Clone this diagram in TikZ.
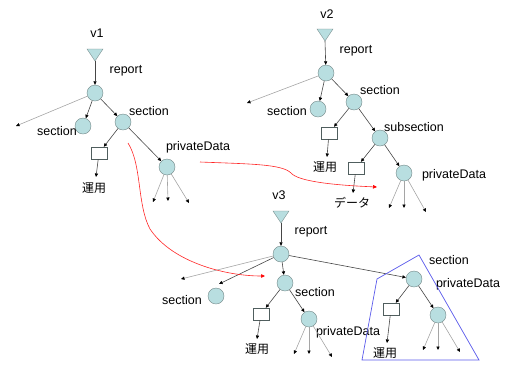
\documentclass[tikz,border=0pt]{standalone}
\usepackage{fontspec}
\setmainfont{Liberation Sans}
\newfontfamily\jp{Noto Sans CJK JP}
\usetikzlibrary{arrows.meta}
\definecolor{nodefill}{RGB}{184,222,224}
\definecolor{nodeline}{RGB}{115,135,135}
\definecolor{darkedge}{RGB}{70,70,70}
\definecolor{lightedge}{RGB}{165,165,165}
\definecolor{hull}{RGB}{90,90,235}
\begin{document}
\begin{tikzpicture}[x=1pt,y=-1pt,
  tnode/.style={circle,draw=nodeline,fill=nodefill,minimum size=16pt,inner sep=0pt},
  box/.style={draw=nodeline!70!black,fill=white,minimum width=16pt,minimum height=12pt,inner sep=0pt},
  tri/.style={draw=nodeline,fill=nodefill},
  lbl/.style={font=\fontsize{12.5}{14}\selectfont,inner sep=0pt},
  jlbl/.style={font=\jp\fontsize{12}{14}\selectfont,inner sep=0pt},
  dk/.style={draw=darkedge,line width=0.6pt,-{Triangle[length=3.5pt,width=3.2pt,color=black]}},
  lt/.style={draw=lightedge,line width=0.6pt,-{Triangle[length=3.5pt,width=3.2pt,color=black]}},
  redarrow/.style={draw=red!85!white,line width=0.6pt,-{Triangle[length=4pt,width=3.5pt,color=red]}}
]
\useasboundingbox (0,0) rectangle (506,365);

% ---------------- v1 ----------------
\node[lbl] (v1) at (97,33) {v1};
\filldraw[tri] (87,49) -- (103,49) -- (95,61) -- cycle;
\coordinate (t1) at (95,61);
\node[tnode] (r1) at (95,93) {};
\node[tnode] (s1a) at (83,126) {};
\node[tnode] (s1b) at (123,122) {};
\node[box] (b1) at (99,153) {};
\node[tnode] (p1) at (167,167) {};
\coordinate (l1) at (16,126);
\coordinate (e1) at (96,177);
\coordinate (q1a) at (153,202);
\coordinate (q1b) at (168,201);
\coordinate (q1c) at (189,203);
\node[lbl] (lr1) at (126,71) {report};
\node[lbl] (ls1a) at (57,131) {section};
\node[lbl] (ls1b) at (149,111) {section};
\node[jlbl] (lu1) at (94,188) {運用};
\node[lbl] (lp1) at (198,147) {privateData};
\draw[dk] (t1) -- (r1);
\draw[lt] (r1) -- (l1);
\draw[dk] (r1) -- (s1a);
\draw[dk] (r1) -- (s1b);
\draw[dk] (s1b) -- (b1);
\draw[dk] (s1b) -- (p1);
\draw[dk] (b1) -- (e1);
\draw[lt] (p1) -- (q1a);
\draw[lt] (p1) -- (q1b);
\draw[lt] (p1) -- (q1c);

% ---------------- v2 ----------------
\node[lbl] (v2) at (327,14) {v2};
\filldraw[tri] (317,29) -- (333,29) -- (325,41) -- cycle;
\coordinate (t2) at (325,41);
\node[tnode] (r2) at (326,73) {};
\node[tnode] (s2a) at (318,109) {};
\node[tnode] (s2b) at (354,102) {};
\node[box] (b2) at (329,133) {};
\node[tnode] (ss2) at (380,138) {};
\node[box] (b2b) at (356,168) {};
\node[tnode] (p2) at (404,173) {};
\coordinate (l2) at (247,103);
\coordinate (e2) at (327,157);
\coordinate (e2b) at (353,193);
\coordinate (q2a) at (389,208);
\coordinate (q2b) at (404,208);
\coordinate (q2c) at (426,212);
\node[lbl] (lr2) at (356,51) {report};
\node[lbl] (ls2a) at (287,111) {section};
\node[lbl] (ls2b) at (380,90) {section};
\node[lbl] (lss2) at (414,127) {subsection};
\node[jlbl] (lu2) at (325,167) {運用};
\node[jlbl] (ld2) at (352,203) {データ};
\node[lbl] (lp2) at (454,175) {privateData};
\draw[dk] (t2) -- (r2);
\draw[lt] (r2) -- (l2);
\draw[dk] (r2) -- (s2a);
\draw[dk] (r2) -- (s2b);
\draw[dk] (s2b) -- (b2);
\draw[dk] (s2b) -- (ss2);
\draw[dk] (b2) -- (e2);
\draw[dk] (ss2) -- (b2b);
\draw[dk] (ss2) -- (p2);
\draw[dk] (b2b) -- (e2b);
\draw[lt] (p2) -- (q2a);
\draw[lt] (p2) -- (q2b);
\draw[lt] (p2) -- (q2c);

% ---------------- v3 ----------------
\node[lbl] (v3) at (279,195) {v3};
\filldraw[tri] (273,211) -- (289,211) -- (281,223) -- cycle;
\coordinate (t3) at (281,223);
\node[tnode] (r3) at (281,254) {};
\node[tnode] (s3a) at (216,296) {};
\node[tnode] (s3b) at (285,283) {};
\node[box] (b3) at (261,314) {};
\node[tnode] (p3) at (309,319) {};
\node[tnode] (s3c) at (414,279) {};
\node[box] (b3c) at (391,309) {};
\node[tnode] (p3c) at (438,315) {};
\coordinate (l3) at (181,279);
\coordinate (m3) at (219,284);
\coordinate (e3) at (257,339);
\coordinate (q3a) at (294,354);
\coordinate (q3b) at (309,354);
\coordinate (q3c) at (332,357);
\coordinate (e3c) at (387,343);
\coordinate (q3d) at (423,350);
\coordinate (q3e) at (438,350);
\coordinate (q3f) at (460,352);
\node[lbl] (lr3) at (311,232) {report};
\node[lbl] (ls3a) at (182,300) {section};
\node[lbl] (ls3b) at (315,292) {section};
\node[jlbl] (lu3) at (257,349) {運用};
\node[lbl] (lp3) at (348,332) {privateData};
\node[lbl] (ls3c) at (449,260) {section};
\node[lbl] (lp3c) at (468,284) {privateData};
\node[jlbl] (lu3c) at (385,353) {運用};
\draw[dk] (t3) -- (r3);
\draw[lt] (r3) -- (l3);
\draw[dk] (r3) -- (m3);
\draw[dk] (r3) -- (s3b);
\draw[dk] (r3) -- (s3c);
\draw[dk] (s3b) -- (b3);
\draw[dk] (s3b) -- (p3);
\draw[dk] (b3) -- (e3);
\draw[lt] (p3) -- (q3a);
\draw[lt] (p3) -- (q3b);
\draw[lt] (p3) -- (q3c);
\draw[dk] (s3c) -- (b3c);
\draw[dk] (s3c) -- (p3c);
\draw[dk] (b3c) -- (e3c);
\draw[lt] (p3c) -- (q3d);
\draw[lt] (p3c) -- (q3e);
\draw[lt] (p3c) -- (q3f);

% blue hull
\draw[hull,line width=0.7pt] (362,360) -- (377,279) -- (419,255) -- (479,360) -- cycle;

% red arrows
\coordinate (ra) at (200,162);
\coordinate (rb) at (377,187);
\draw[redarrow] (ra) .. controls (250,164) and (282,164) .. (291,173)
  .. controls (298,181) and (330,185) .. (rb);
\coordinate (rc) at (128,143);
\coordinate (rd) at (265,276);
\draw[redarrow] (rc) .. controls (142,165) and (137,205) .. (150,229)
  .. controls (172,262) and (225,276) .. (rd);
\end{tikzpicture}
\end{document}
